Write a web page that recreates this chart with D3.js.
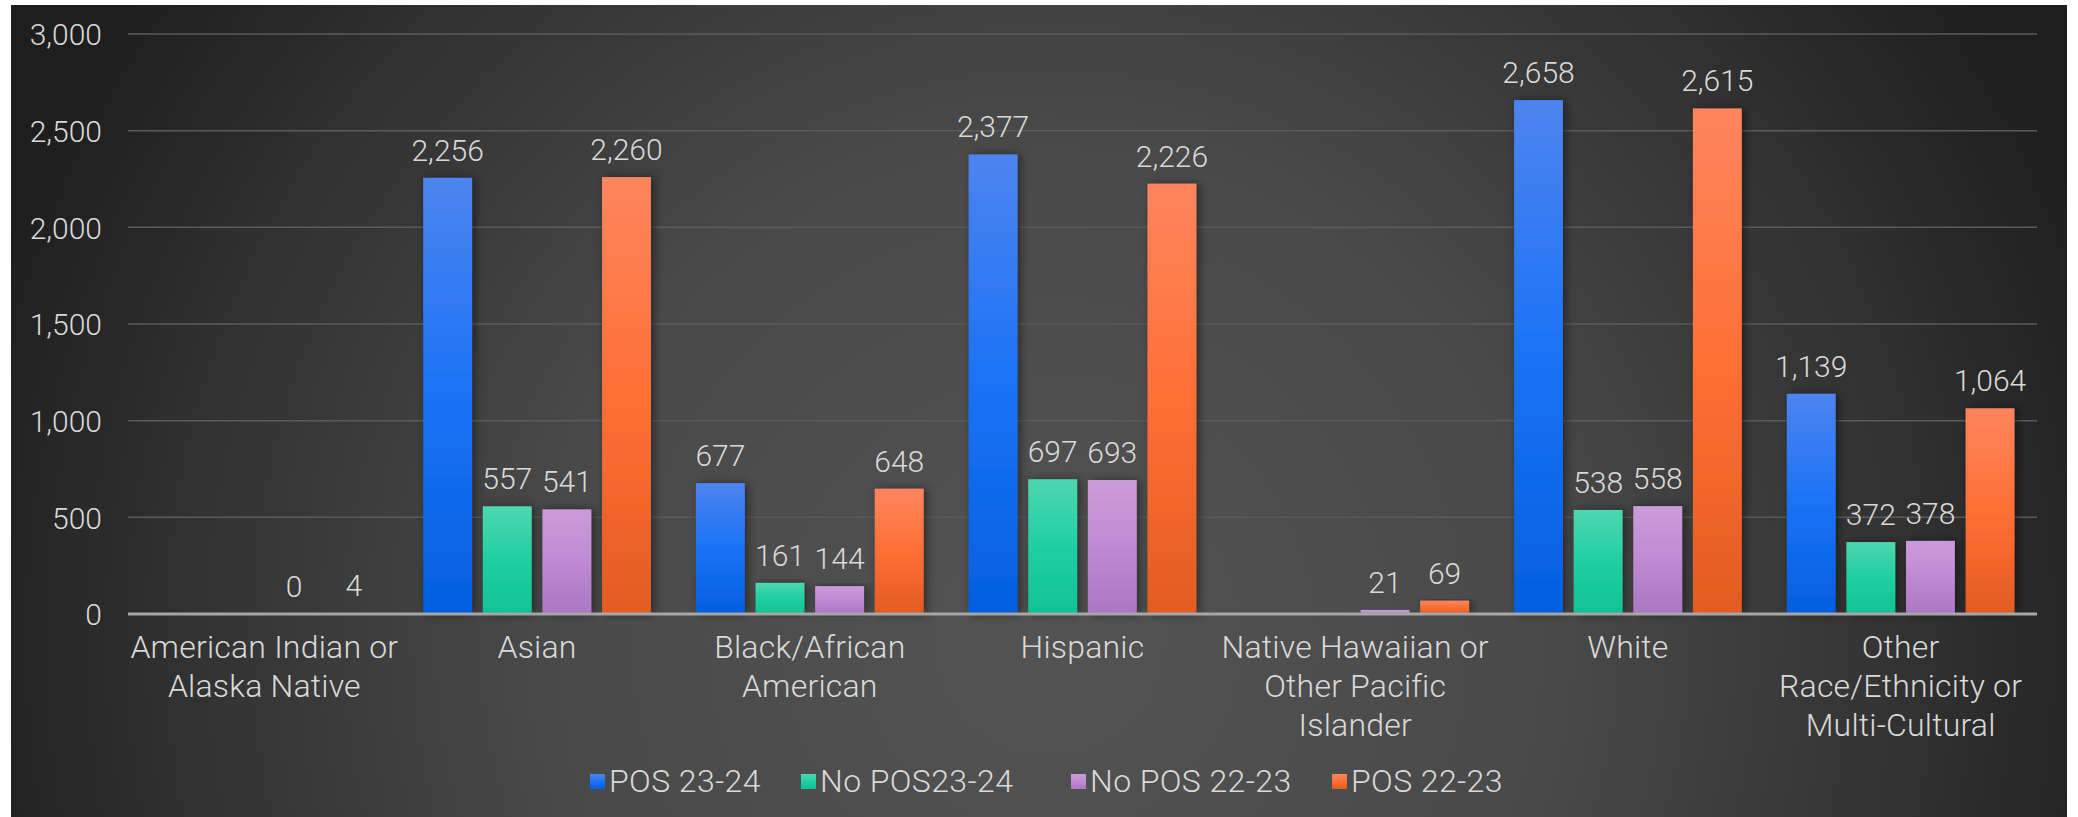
<!DOCTYPE html>
<html>
<head>
<meta charset="utf-8">
<script src="https://cdn.jsdelivr.net/npm/d3@7"></script>
<style>
  html, body { margin: 0; padding: 0; background: #ffffff; }
  svg { display: block; }
  text { font-family: Roboto, "Noto Sans", sans-serif; font-weight: 300; fill: #d9d9d9; }
</style>
</head>
<body>
<script>
// Student counts by race/ethnicity, grouped by POS status and school year
const categories = [
  "American Indian or Alaska Native",
  "Asian",
  "Black/African American",
  "Hispanic",
  "Native Hawaiian or Other Pacific Islander",
  "White",
  "Other Race/Ethnicity or Multi-Cultural"
];
// wrapped lines for the category axis
const categoryLines = [
  ["American Indian or", "Alaska Native"],
  ["Asian"],
  ["Black/African", "American"],
  ["Hispanic"],
  ["Native Hawaiian or", "Other Pacific", "Islander"],
  ["White"],
  ["Other", "Race/Ethnicity or", "Multi-Cultural"]
];
const seriesNames = ["POS 23-24", "No POS23-24", "No POS 22-23", "POS 22-23"];
const pos2324   = [null, 2256, 677, 2377, null, 2658, 1139];
const noPos2324 = [null, 557, 161, 697, null, 538, 372];
const noPos2223 = [0, 541, 144, 693, 21, 558, 378];
const pos2223   = [4, 2260, 648, 2226, 69, 2615, 1064];
const yTicks = [0, 500, 1000, 1500, 2000, 2500, 3000];

const seriesValues = [pos2324, noPos2324, noPos2223, pos2223];
// gradient stops per series: top, middle, bottom
const seriesColors = [
  ["#4d84ef", "#1a72f6", "#035fe0"],
  ["#4fd6b0", "#20cfa3", "#10c295"],
  ["#cb9cda", "#bf8ad3", "#ac77c3"],
  ["#ff855e", "#ff6f35", "#e25c22"]
];

const W = 2078, H = 817;
const panel = { x: 11, y: 5, w: 2056, h: 812 };
const plot = { left: 128, right: 2037, top: 34, bottom: 614 };

const svg = d3.select("body").append("svg").attr("width", W).attr("height", H);
const defs = svg.append("defs");

const bg = defs.append("radialGradient").attr("id", "bg")
  .attr("gradientUnits", "userSpaceOnUse")
  .attr("cx", 1050).attr("cy", 640).attr("r", 1120);
bg.append("stop").attr("offset", "0").attr("stop-color", "#535353");
bg.append("stop").attr("offset", "0.45").attr("stop-color", "#494949");
bg.append("stop").attr("offset", "0.75").attr("stop-color", "#333333");
bg.append("stop").attr("offset", "1").attr("stop-color", "#1e1e1e");

seriesColors.forEach((c, i) => {
  const g = defs.append("linearGradient").attr("id", "bar" + i)
    .attr("x1", 0).attr("y1", 0).attr("x2", 0).attr("y2", 1);
  g.append("stop").attr("offset", "0").attr("stop-color", c[0]);
  g.append("stop").attr("offset", "0.5").attr("stop-color", c[1]);
  g.append("stop").attr("offset", "1").attr("stop-color", c[2]);
});

const shadow = defs.append("filter").attr("id", "shadow")
  .attr("x", "-30%").attr("y", "-10%").attr("width", "160%").attr("height", "120%");
shadow.append("feDropShadow").attr("dx", 3).attr("dy", 0).attr("stdDeviation", 5)
  .attr("flood-color", "#000").attr("flood-opacity", 0.45);

svg.append("rect").attr("x", panel.x).attr("y", panel.y)
  .attr("width", panel.w).attr("height", panel.h).attr("fill", "url(#bg)");

const x0 = d3.scaleBand().domain(categories).range([plot.left, plot.right]).padding(0);
const outer = 22.5;
const x1 = d3.scaleBand().domain(seriesNames)
  .range([outer, x0.bandwidth() - outer]).paddingInner(0.18).paddingOuter(0);
const y = d3.scaleLinear().domain([0, 3000]).range([plot.bottom, plot.top]);

// gridlines
svg.append("g").selectAll("line").data(yTicks.filter(t => t > 0)).join("line")
  .attr("x1", plot.left).attr("x2", plot.right)
  .attr("y1", d => y(d)).attr("y2", d => y(d))
  .attr("stroke", "#5b5b5b").attr("stroke-width", 1.5);

// y axis labels
const yAxis = d3.axisLeft(y).tickValues(yTicks).tickFormat(d3.format(",")).tickSize(0).tickPadding(0);
const yg = svg.append("g").attr("transform", `translate(${plot.left - 26},0)`).call(yAxis);
yg.select(".domain").remove();
yg.selectAll("text").attr("font-size", 30).attr("dy", "0.36em").attr("fill", "#d9d9d9")
  .style("font-family", "Roboto, sans-serif").style("font-weight", 300);

// bars
const groups = svg.append("g").selectAll("g").data(categories).join("g")
  .attr("transform", d => `translate(${x0(d)},0)`);

const fmt = d3.format(",");
groups.each(function(cat, ci) {
  const g = d3.select(this);
  seriesNames.forEach((s, si) => {
    const v = seriesValues[si][ci];
    if (v === null) return;
    if (v > 0) {
      g.append("rect")
        .attr("x", x1(s)).attr("width", x1.bandwidth())
        .attr("y", y(v)).attr("height", y(0) - y(v))
        .attr("fill", `url(#bar${si})`)
        .attr("filter", "url(#shadow)");
    }
    g.append("text")
      .attr("x", x1(s) + x1.bandwidth() / 2)
      .attr("y", y(v) - 17)
      .attr("text-anchor", "middle")
      .attr("font-size", 30)
      .text(fmt(v));
  });
});

// zero baseline
svg.append("line").attr("x1", plot.left).attr("x2", plot.right)
  .attr("y1", y(0)).attr("y2", y(0))
  .attr("stroke", "#a6a6a6").attr("stroke-width", 3);

// category labels
const xl = svg.append("g");
categories.forEach((c, i) => {
  const cx = x0(c) + x0.bandwidth() / 2;
  const t = xl.append("text")
    .attr("x", cx)
    .attr("y", 658)
    .attr("text-anchor", "middle")
    .attr("font-size", 32)
    .attr("letter-spacing", 0.2);
  categoryLines[i].forEach((line, li) => {
    t.append("tspan").attr("x", cx)
      .attr("dy", li === 0 ? 0 : 39).text(line);
  });
});

// legend
const legendX = [590, 801, 1071, 1332];
const lg = svg.append("g");
seriesNames.forEach((s, i) => {
  lg.append("rect").attr("x", legendX[i]).attr("y", 774)
    .attr("width", 15).attr("height", 15).attr("fill", `url(#bar${i})`);
  lg.append("text").attr("x", legendX[i] + 19).attr("y", 792)
    .attr("font-size", 32).attr("letter-spacing", 0.4).text(s);
});
</script>
</body>
</html>
